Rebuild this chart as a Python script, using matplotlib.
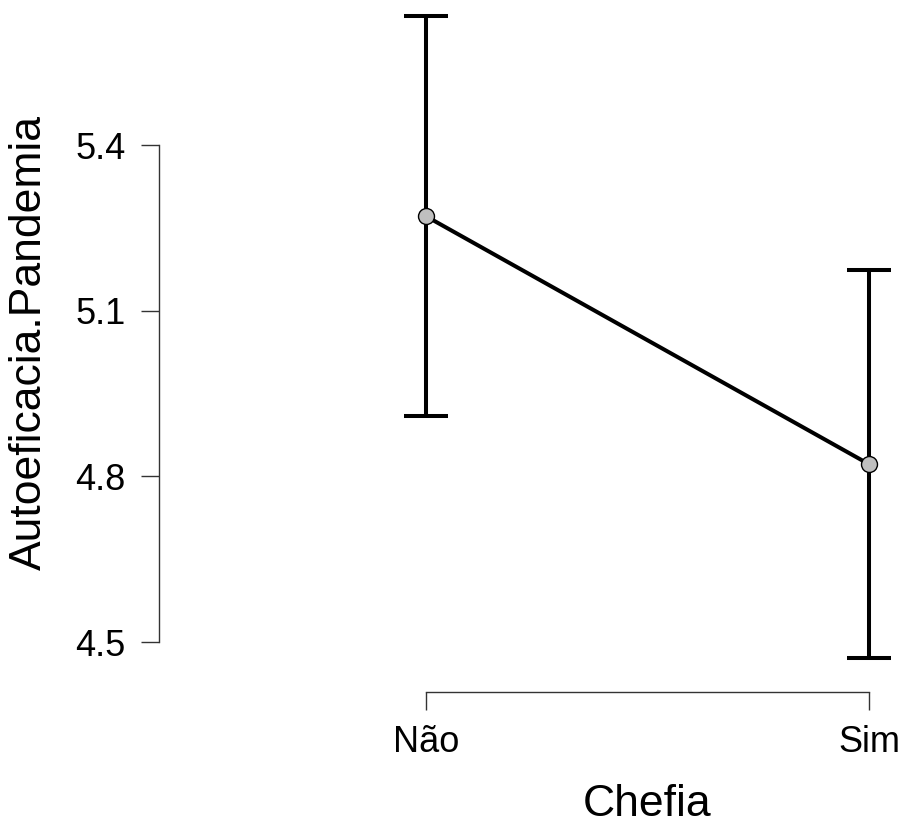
import matplotlib
matplotlib.use("Agg")
import matplotlib.pyplot as plt

categories = ["Não", "Sim"]
means = [5.271, 4.822]
ci_lower = [4.910, 4.471]
ci_upper = [5.634, 5.174]
yticks = [4.5, 4.8, 5.1, 5.4]
ytick_labels = ["4.5", "4.8", "5.1", "5.4"]

plt.rcParams['font.family'] = ['Liberation Sans', 'DejaVu Sans']

fig = plt.figure(figsize=(9.05, 8.25), dpi=100)
ax = fig.add_axes([0.1757, 0.1612, 0.8188, 0.8327])

x = list(range(len(categories)))
yerr = [[m - l for m, l in zip(means, ci_lower)], [u - m for m, u in zip(means, ci_upper)]]
ax.plot(x, means, color='black', lw=2.9, zorder=2)
ax.errorbar(x, means, yerr=yerr, fmt='none', ecolor='black', elinewidth=2.9,
            capsize=16, capthick=2.9, zorder=2)
ax.plot(x, means, 'o', ms=11.5, mfc='#BFBFBF', mec='black', mew=1.0, zorder=3)

ax.set_xlim(-0.6027, 1.070)
ax.set_ylim(4.4095, 5.6535)

for s in ['top', 'right']:
    ax.spines[s].set_visible(False)
ax.spines['left'].set_bounds(4.5, 5.4)
ax.spines['bottom'].set_bounds(0, 1)
for s in ['left', 'bottom']:
    ax.spines[s].set_color('#333333')
    ax.spines[s].set_linewidth(1.0)

ax.set_xticks(x)
ax.set_xticklabels(categories)
ax.set_yticks(yticks)
ax.set_yticklabels(ytick_labels)
ax.tick_params(axis='both', length=13, width=1.0, color='#333333', labelsize=26,
               pad=11, labelcolor='black')

fig.text(29/905, 1 - 343/825, "Autoeficacia.Pandemia", rotation=90, fontsize=32,
         ha='center', va='center')
fig.text(647/905, 1 - 805/825, "Chefia", fontsize=32, ha='center', va='center')

fig.savefig("out.png", dpi=100)
